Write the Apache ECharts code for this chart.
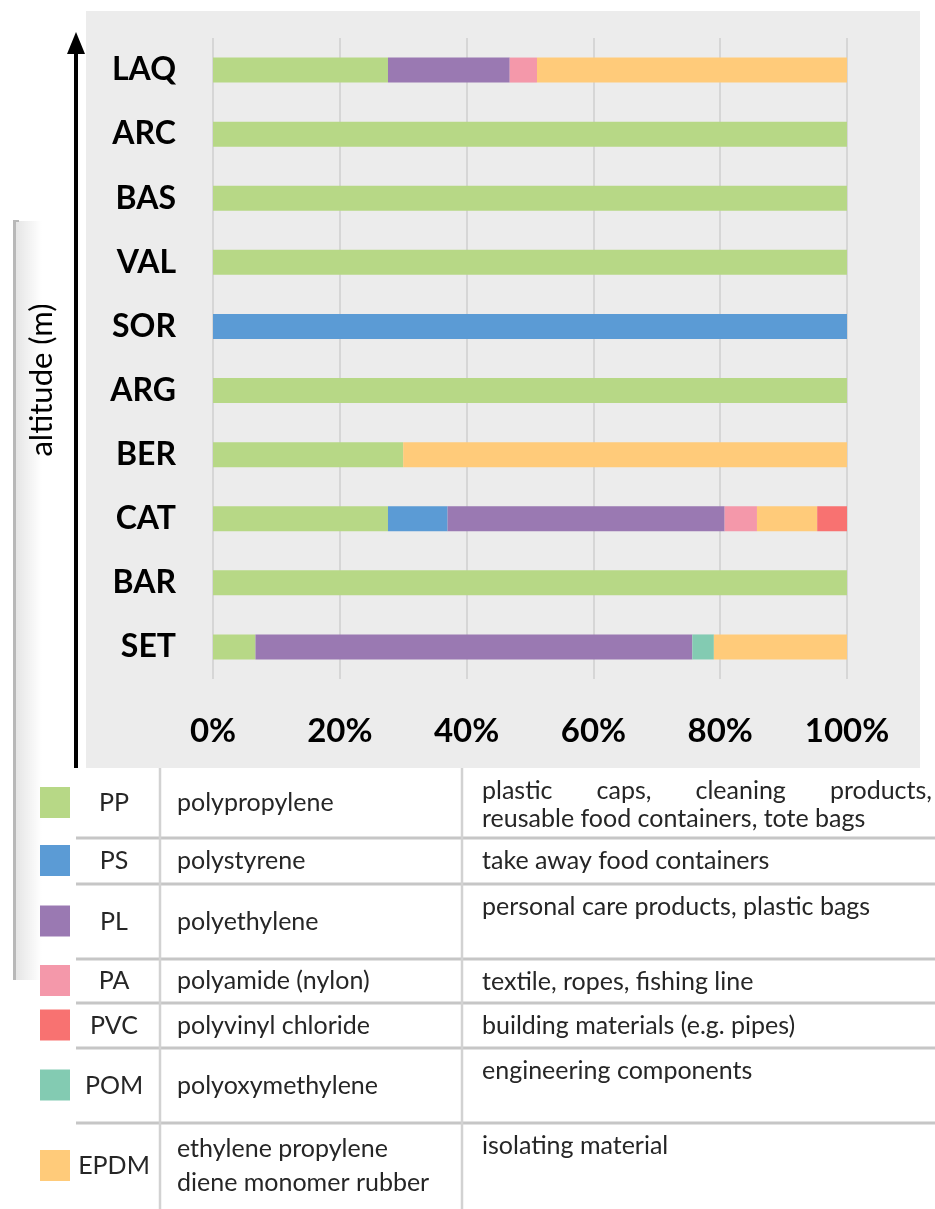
<!DOCTYPE html>
<html>
<head>
<meta charset="utf-8">
<script src="https://cdn.jsdelivr.net/npm/echarts@6/dist/echarts.min.js"></script>
<style>
  html, body { margin: 0; padding: 0; background: #fff; }
  #chart { width: 935px; height: 1209px; }
</style>
</head>
<body>
<div id="chart"></div>
<script>
// categories, bottom to top (altitude increases upward)
const categories = ['SET', 'BAR', 'CAT', 'BER', 'ARG', 'SOR', 'VAL', 'BAS', 'ARC', 'LAQ'];
// share of each polymer per site (%)
const pp   = [6.7, 100, 27.6, 30, 100, 0, 100, 100, 100, 27.6];
const ps   = [0, 0, 9.4, 0, 0, 100, 0, 0, 0, 0];
const pl   = [68.9, 0, 43.7, 0, 0, 0, 0, 0, 0, 19.2];
const pa   = [0, 0, 5.1, 0, 0, 0, 0, 0, 0, 4.3];
const pom  = [3.4, 0, 0, 0, 0, 0, 0, 0, 0, 0];
const epdm = [21, 0, 9.5, 70, 0, 0, 0, 0, 0, 48.9];
const pvc  = [0, 0, 4.7, 0, 0, 0, 0, 0, 0, 0];
const xTicks = [0, 20, 40, 60, 80, 100];

// legend table
const codes = ['PP', 'PS', 'PL', 'PA', 'PVC', 'POM', 'EPDM'];
const names = [['polypropylene'], ['polystyrene'], ['polyethylene'], ['polyamide (nylon)'],
  ['polyvinyl chloride'], ['polyoxymethylene'], ['ethylene propylene', 'diene monomer rubber']];
const uses = [['plastic caps, cleaning products,', 'reusable food containers, tote bags'],
  ['take away food containers'], ['personal care products, plastic bags'],
  ['textile, ropes, fishing line'], ['building materials (e.g. pipes)'],
  ['engineering components'], ['isolating material']];

const colors = {
  PP: '#b7d886', PS: '#5b9bd5', PL: '#9a79b2', PA: '#f498aa',
  POM: '#83cbb2', EPDM: '#ffcb7a', PVC: '#f87271'
};

const chart = echarts.init(document.getElementById('chart'));

const FONT = 'Lato, "Open Sans", sans-serif';
const TXT = '#262626';

const stackSeries = [
  ['PP', pp], ['PS', ps], ['PL', pl], ['PA', pa], ['POM', pom], ['EPDM', epdm], ['PVC', pvc]
].map(function (s) {
  return {
    name: s[0], type: 'bar', stack: 'all', barWidth: 25, silent: true,
    itemStyle: { color: colors[s[0]] },
    data: s[1]
  };
});

// table layout
const rowEdges = [768, 838, 884, 959, 1003, 1048, 1123, 1209];
const graphics = [];

// grey plot panel
graphics.push({ type: 'rect', z: -10, shape: { x: 86, y: 11, width: 834, height: 757 }, style: { fill: '#ececec' } });

// left text-box edge with soft shadow
graphics.push({ type: 'rect', z: -10, shape: { x: 16, y: 221, width: 26, height: 759 },
  style: { fill: new echarts.graphic.LinearGradient(0, 0, 1, 0, [
    { offset: 0, color: 'rgba(0,0,0,0.10)' }, { offset: 1, color: 'rgba(0,0,0,0)' }]) } });
graphics.push({ type: 'rect', shape: { x: 13, y: 221, width: 3, height: 759 }, style: { fill: '#b8b8b8' } });
graphics.push({ type: 'rect', shape: { x: 13, y: 220, width: 6, height: 2 }, style: { fill: '#b8b8b8' } });

// altitude arrow
graphics.push({ type: 'line', shape: { x1: 76, y1: 768, x2: 76, y2: 48 }, style: { stroke: '#000', lineWidth: 4 } });
graphics.push({ type: 'polygon', shape: { points: [[67, 54], [85, 54], [76, 32]] }, style: { fill: '#000' } });
graphics.push({ type: 'text', x: 42, y: 380, rotation: Math.PI / 2,
  style: { text: 'altitude (m)', fontSize: 31, fontFamily: FONT, fill: '#000', align: 'center', verticalAlign: 'middle' } });

// table grid lines
for (let i = 1; i < rowEdges.length - 1; i++) {
  graphics.push({ type: 'line', shape: { x1: 76, y1: rowEdges[i], x2: 935, y2: rowEdges[i] },
    style: { stroke: '#c6c6c6', lineWidth: 3 } });
}
[160, 462].forEach(function (x) {
  graphics.push({ type: 'line', shape: { x1: x, y1: 768, x2: x, y2: 1209 }, style: { stroke: '#d2d2d2', lineWidth: 2.5 } });
});

const ctx = document.createElement('canvas').getContext('2d');
ctx.font = '25px Lato';

function justified(line, x0, x1, y) {
  const words = line.split(' ');
  const widths = words.map(function (w) { return ctx.measureText(w).width; });
  const total = widths.reduce(function (a, b) { return a + b; }, 0);
  const gap = (x1 - x0 - total) / (words.length - 1);
  let x = x0;
  words.forEach(function (w, i) {
    graphics.push({ type: 'text', x: x, y: y,
      style: { text: w, fontSize: 25, fontFamily: FONT, fill: TXT, align: 'left', verticalAlign: 'middle' } });
    x += widths[i] + gap;
  });
}

codes.forEach(function (code, i) {
  const top = rowEdges[i], bot = rowEdges[i + 1], mid = (top + bot) / 2;
  graphics.push({ type: 'rect', shape: { x: 40, y: mid - 16, width: 30, height: 31 }, style: { fill: colors[code] } });
  graphics.push({ type: 'text', x: 114, y: mid,
    style: { text: code, fontSize: 25, fontFamily: FONT, fill: TXT, align: 'center', verticalAlign: 'middle' } });
  names[i].forEach(function (n, j) {
    const y = mid + (j - (names[i].length - 1) / 2) * 34;
    graphics.push({ type: 'text', x: 177, y: y,
      style: { text: n, fontSize: 25, fontFamily: FONT, fill: TXT, align: 'left', verticalAlign: 'middle' } });
  });
  uses[i].forEach(function (u, j) {
    const y = top + 23 + j * 28;
    if (i === 0 && j === 0) {
      justified(u, 482, 932, y);
    } else {
      graphics.push({ type: 'text', x: 482, y: y,
        style: { text: u, fontSize: 25, fontFamily: FONT, fill: TXT, align: 'left', verticalAlign: 'middle' } });
    }
  });
});

chart.setOption({
  animation: false,
  backgroundColor: '#fff',
  textStyle: { fontFamily: FONT },
  grid: { left: 213, right: 88, top: 38, bottom: 530 },
  xAxis: {
    type: 'value', min: xTicks[0], max: xTicks[xTicks.length - 1], interval: xTicks[1] - xTicks[0],
    axisLine: { show: false }, axisTick: { show: false },
    splitLine: { lineStyle: { color: '#d6d6d6', width: 2 } },
    axisLabel: { formatter: '{value}%', fontSize: 33, fontWeight: 'bold', color: '#000', margin: 36 }
  },
  yAxis: {
    type: 'category', data: categories,
    axisLine: { show: false }, axisTick: { show: false },
    axisLabel: { fontSize: 32, fontWeight: 'bold', color: '#000', margin: 37 }
  },
  graphic: graphics,
  series: stackSeries
});
</script>
</body>
</html>
